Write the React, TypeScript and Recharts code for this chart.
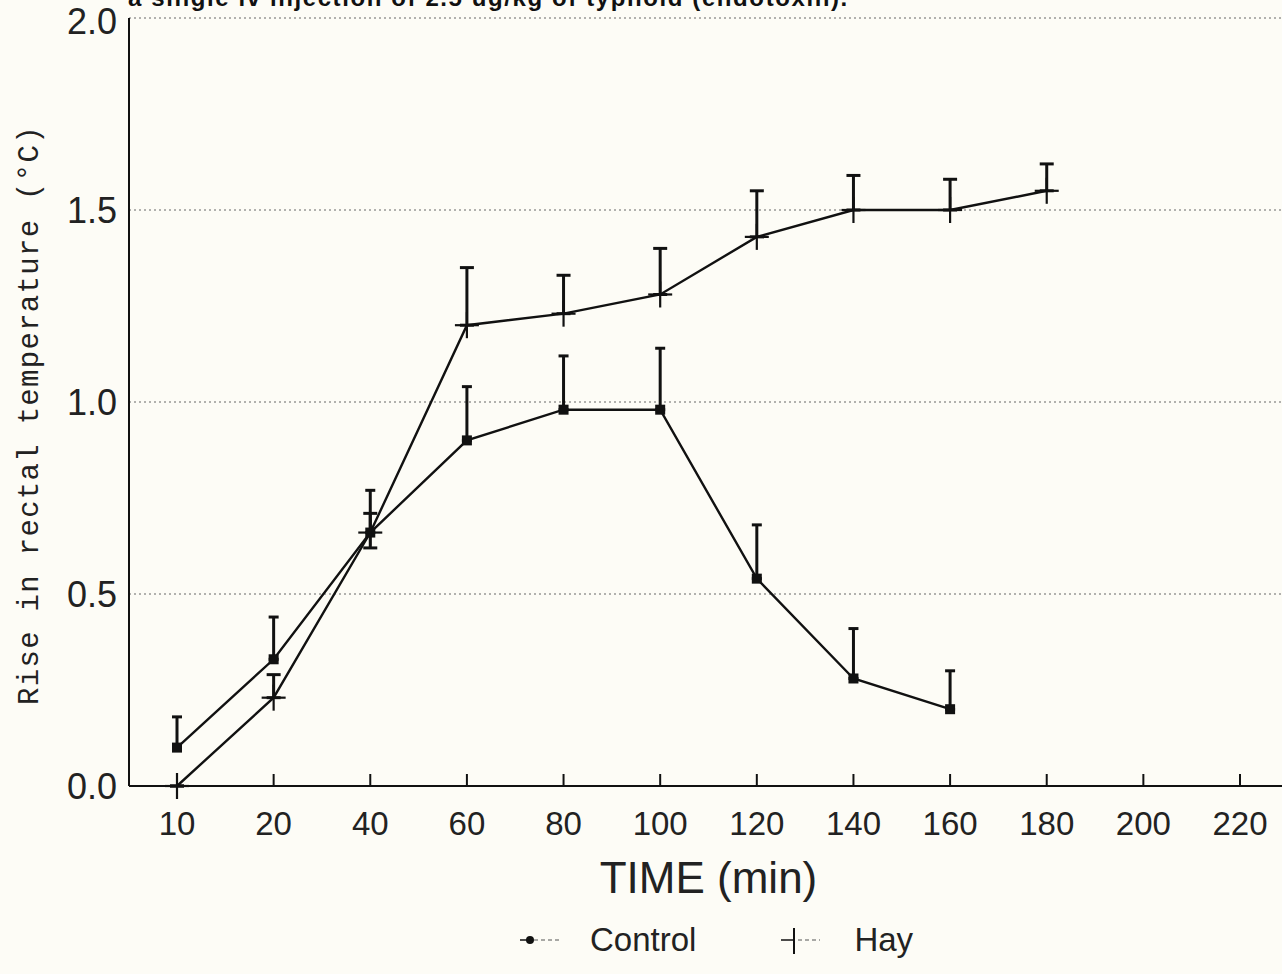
import React from 'react';
import {
  LineChart, Line, XAxis, YAxis, CartesianGrid, ErrorBar, Label
} from 'recharts';

// sampling times (min) – evenly spaced categories on the x axis
const timeLabels = ['10', '20', '40', '60', '80', '100', '120', '140', '160', '180', '200', '220'];

// Control group: mean rise and upper SE
const controlMean = [0.10, 0.33, 0.66, 0.90, 0.98, 0.98, 0.54, 0.28, 0.20, null, null, null];
const controlErrUp = [0.08, 0.11, 0.11, 0.14, 0.14, 0.16, 0.14, 0.13, 0.10, null, null, null];

// Hay group: mean rise, lower and upper SE
const hayMean = [0.0, 0.23, 0.66, 1.20, 1.23, 1.28, 1.43, 1.50, 1.50, 1.55, null, null];
const hayErrDown = [0, 0, 0.04, 0, 0, 0, 0, 0, 0, 0, null, null];
const hayErrUp = [0, 0.06, 0.05, 0.15, 0.10, 0.12, 0.12, 0.09, 0.08, 0.07, null, null];

const yTicks = [0, 0.5, 1.0, 1.5, 2.0];

const data = timeLabels.map((t, i) => ({
  time: t,
  control: controlMean[i],
  controlErr: controlMean[i] == null ? null : [0, controlErrUp[i]],
  hay: hayMean[i],
  hayErr: hayMean[i] == null ? null : [hayErrDown[i], hayErrUp[i]],
}));

const sansFont = '"Liberation Sans", Arial, sans-serif';
const bg = '#fdfcf6';

const SquareDot = (props: any) => {
  const { cx, cy, value } = props;
  if (value == null || cx == null || cy == null) return null;
  return <rect x={cx - 5} y={cy - 5} width={10} height={10} fill="#111" />;
};

const PlusDot = (props: any) => {
  const { cx, cy, value } = props;
  if (value == null || cx == null || cy == null) return null;
  return (
    <g stroke="#111" strokeWidth={2.2}>
      <line x1={cx - 12} y1={cy} x2={cx + 12} y2={cy} />
      <line x1={cx} y1={cy - 13} x2={cx} y2={cy + 13} />
    </g>
  );
};

const TimeTick = (props: any) => {
  const { x, y, payload } = props;
  return (
    <g>
      <line x1={x} y1={y - 12} x2={x} y2={y} stroke="#111" strokeWidth={2} />
      <text x={x} y={y + 49} textAnchor="middle" fontSize={33} fill="#222" fontFamily={sansFont}>
        {payload.value}
      </text>
    </g>
  );
};

export default function App() {
  return (
    <div style={{ position: 'absolute', left: 0, top: 0, width: 1282, height: 974, overflow: 'hidden', background: bg }}>
      <div
        style={{
          position: 'absolute', left: 128, top: -16, fontFamily: sansFont, fontWeight: 'bold',
          fontSize: 24, letterSpacing: 1.6, color: '#111', whiteSpace: 'nowrap',
        }}
      >
        a single iv injection of 2.5 ug/kg of typhoid (endotoxin).
      </div>

      <LineChart width={1290} height={974} data={data} margin={{ top: 18, right: 2, left: 0, bottom: 0 }}>
        <CartesianGrid vertical={false} stroke="#666" strokeDasharray="2 3" />
        <XAxis
          dataKey="time"
          height={188}
          padding={{ left: 48, right: 48 }}
          tickLine={false}
          tickSize={0}
          tickMargin={0}
          interval={0}
          tick={<TimeTick />}
          axisLine={{ stroke: '#111', strokeWidth: 2 }}
        >
          <Label
            value="TIME (min)"
            position="insideTop"
            offset={76}
            style={{ fontSize: 44, fontFamily: sansFont, fill: '#222', fontWeight: 300 }}
          />
        </XAxis>
        <YAxis
          width={129}
          domain={[0, 2]}
          ticks={yTicks}
          tickFormatter={(v: number) => v.toFixed(1)}
          tickLine={false}
          tickMargin={6}
          axisLine={{ stroke: '#111', strokeWidth: 2 }}
          tick={{ fontSize: 36, fill: '#222', fontFamily: sansFont }}
        >
          <Label
            content={() => (
              <text
                x={30}
                y={415}
                transform="rotate(-90, 30, 415)"
                textAnchor="middle"
                dominantBaseline="central"
                fontFamily='"Liberation Mono", "DejaVu Sans Mono", monospace'
                fontSize={29}
                letterSpacing={1.3}
                fill="#222"
              >
                Rise in rectal temperature (°C)
              </text>
            )}
          />
        </YAxis>
        <Line
          dataKey="control"
          stroke="#111"
          strokeWidth={2.4}
          dot={<SquareDot />}
          isAnimationActive={false}
          connectNulls={false}
        >
          <ErrorBar dataKey="controlErr" width={5} stroke="#111" strokeWidth={3} direction="y" />
        </Line>
        <Line
          dataKey="hay"
          stroke="#111"
          strokeWidth={2.4}
          dot={<PlusDot />}
          isAnimationActive={false}
          connectNulls={false}
        >
          <ErrorBar dataKey="hayErr" width={7} stroke="#111" strokeWidth={3} direction="y" />
        </Line>
      </LineChart>

      <div
        style={{
          position: 'absolute', left: 515, top: 920, display: 'flex', alignItems: 'center',
          fontFamily: sansFont, fontSize: 33, color: '#222',
        }}
      >
        <svg width={50} height={40}>
          <line x1={5} y1={20} x2={15} y2={20} stroke="#111" strokeWidth={1.5} />
          <circle cx={15} cy={20} r={4} fill="#111" />
          <line x1={19} y1={20} x2={45} y2={20} stroke="#555" strokeWidth={1.2} strokeDasharray="4 3" />
        </svg>
        <span style={{ marginLeft: 25 }}>Control</span>
        <svg width={60} height={40} style={{ marginLeft: 80 }}>
          <line x1={5} y1={20} x2={18} y2={20} stroke="#111" strokeWidth={1.5} />
          <line x1={18} y1={8} x2={18} y2={34} stroke="#111" strokeWidth={2} />
          <line x1={22} y1={20} x2={44} y2={20} stroke="#555" strokeWidth={1.2} strokeDasharray="4 3" />
        </svg>
        <span style={{ marginLeft: 18 }}>Hay</span>
      </div>
    </div>
  );
}
